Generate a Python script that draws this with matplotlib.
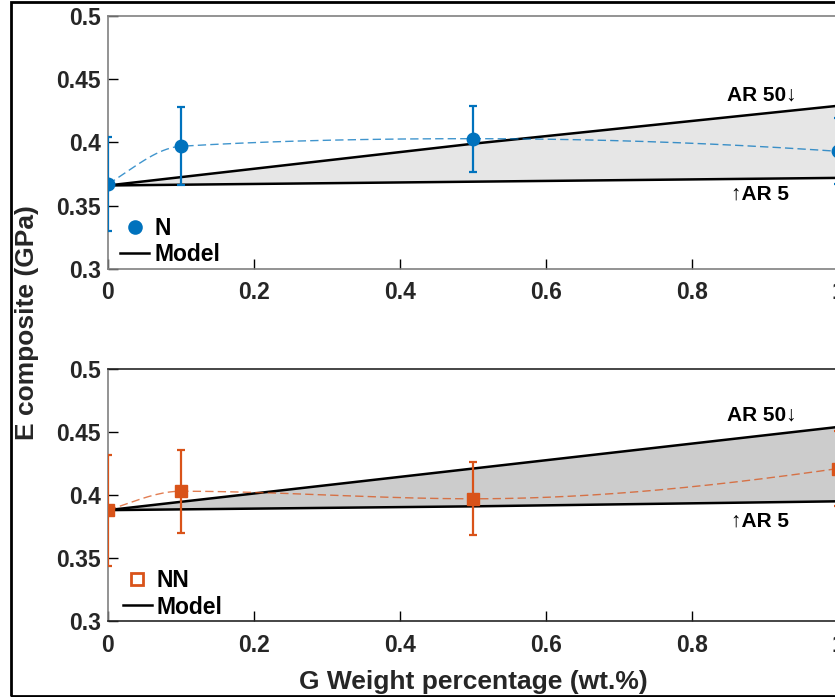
import numpy as np
import matplotlib
matplotlib.use('Agg')
import matplotlib.pyplot as plt
from matplotlib.lines import Line2D
from matplotlib.patches import Rectangle
from matplotlib.ticker import FormatStrFormatter

# data
wt = [0, 0.1, 0.5, 1.0]
e_n = [0.367, 0.397, 0.403, 0.393]
err_n = [0.037, 0.031, 0.026, 0.026]
e_nn = [0.388, 0.403, 0.397, 0.421]
err_nn = [0.044, 0.033, 0.029, 0.030]

wt_model = [0, 0.5, 1.0]
n_ar5 = [0.366, 0.369, 0.372]
n_ar50 = [0.366, 0.399, 0.429]
nn_ar5 = [0.388, 0.391, 0.395]
nn_ar50 = [0.388, 0.421, 0.454]

blue = '#0072BD'
orange = '#D95319'


def pchip(x, y, xs):
    # shape preserving cubic, like matlab pchip
    x = np.asarray(x, float)
    y = np.asarray(y, float)
    h = np.diff(x)
    d = np.diff(y) / h
    m = np.zeros_like(y)
    for k in range(1, len(x) - 1):
        if d[k - 1] * d[k] > 0:
            w1 = 2 * h[k] + h[k - 1]
            w2 = h[k] + 2 * h[k - 1]
            m[k] = (w1 + w2) / (w1 / d[k - 1] + w2 / d[k])
    m[0] = ((2 * h[0] + h[1]) * d[0] - h[0] * d[1]) / (h[0] + h[1])
    if np.sign(m[0]) != np.sign(d[0]):
        m[0] = 0
    m[-1] = ((2 * h[-1] + h[-2]) * d[-1] - h[-1] * d[-2]) / (h[-1] + h[-2])
    if np.sign(m[-1]) != np.sign(d[-1]):
        m[-1] = 0
    out = []
    for v in xs:
        k = min(np.searchsorted(x, v, side='right') - 1, len(x) - 2)
        t = (v - x[k]) / h[k]
        h00 = 2 * t**3 - 3 * t**2 + 1
        h10 = t**3 - 2 * t**2 + t
        h01 = -2 * t**3 + 3 * t**2
        h11 = t**3 - t**2
        out.append(h00 * y[k] + h10 * h[k] * m[k] + h01 * y[k + 1] + h11 * h[k] * m[k + 1])
    return np.array(out)


plt.rcParams['font.family'] = ['Liberation Sans', 'DejaVu Sans']
plt.rcParams['font.weight'] = 'bold'

fig = plt.figure(figsize=(8.35, 6.97), dpi=100)
fig.patches.append(Rectangle((11 / 835, 1.5 / 697), 1.0, 693.5 / 697, transform=fig.transFigure,
                             fill=False, edgecolor='black', linewidth=2))

ax1 = fig.add_axes([0.1293, 0.6141, 0.8743, 0.3630])
ax2 = fig.add_axes([0.1293, 0.1090, 0.8743, 0.3616])


def draw(ax, y, err, ar5, ar50, color, marker, ms, fill, label, mfc_leg, ar50_y, ar5_y, leg_anchor):
    ax.fill_between(wt_model, ar5, ar50, color=fill, linewidth=0, zorder=1)
    ax.plot(wt_model, ar5, color='black', lw=1.8, zorder=2)
    ax.plot(wt_model, ar50, color='black', lw=1.8, zorder=2)
    xs = np.linspace(0, 1, 200)
    ax.plot(xs, pchip(wt, y, xs), color=color, lw=1.0, alpha=0.75, dashes=(6, 3), zorder=3)
    ax.errorbar(wt, y, yerr=err, fmt=marker, color=color, ms=ms, elinewidth=1.6,
                capsize=2.8, capthick=1.6, zorder=4)
    ax.set_xlim(0, 1)
    ax.set_ylim(0.3, 0.5)
    ax.set_xticks([0, 0.2, 0.4, 0.6, 0.8, 1])
    ax.set_yticks([0.3, 0.35, 0.4, 0.45, 0.5])
    ax.xaxis.set_major_formatter(FormatStrFormatter('%g'))
    ax.yaxis.set_major_formatter(FormatStrFormatter('%g'))
    ax.tick_params(direction='in', length=7, width=1, labelsize=16.5, labelcolor='#262626',
                   top=False, right=False)
    ax.tick_params(axis='x', pad=9)
    ax.tick_params(axis='y', pad=5)
    ax.text(0.896, ar50_y, 'AR 50\u2193', fontsize=15, fontweight='bold', ha='center', va='center')
    ax.text(0.893, ar5_y, '\u2191AR 5', fontsize=15, fontweight='bold', ha='center', va='center')
    handles = [Line2D([], [], ls='none', marker=marker, color=color, ms=ms - 0.5,
                      markerfacecolor=mfc_leg, markeredgewidth=2),
               Line2D([], [], color='black', lw=1.8)]
    ax.legend(handles, [label, 'Model'], loc='lower left', frameon=False, fontsize=16.5,
              handlelength=1.3, handletextpad=0.2, labelspacing=0.15,
              borderaxespad=0.0, borderpad=0.0, bbox_to_anchor=leg_anchor)


draw(ax1, e_n, err_n, n_ar5, n_ar50, blue, 'o', 9, '#e6e6e6', 'N', blue,
     0.4375, 0.359, (0.016, 0.01))
draw(ax2, e_nn, err_nn, nn_ar5, nn_ar50, orange, 's', 8.5, '#cccccc', 'NN', 'white',
     0.4635, 0.379, (0.020, 0.01))

for ax in (ax1, ax2):
    for s in ax.spines.values():
        s.set_color('#808080')
        s.set_linewidth(1.2)
ax2.spines['top'].set_color('#262626')
ax2.spines['bottom'].set_color('#262626')

fig.text(27 / 835, 1 - 323 / 697, 'E composite (GPa)', rotation=90, fontsize=19,
         fontweight='bold', ha='center', va='center', color='#262626')
fig.text(473 / 835, 1 - 682 / 697, 'G Weight percentage (wt.%)', fontsize=19,
         fontweight='bold', ha='center', va='center', color='#262626')

plt.savefig('out.png', dpi=100)
plt.close()
